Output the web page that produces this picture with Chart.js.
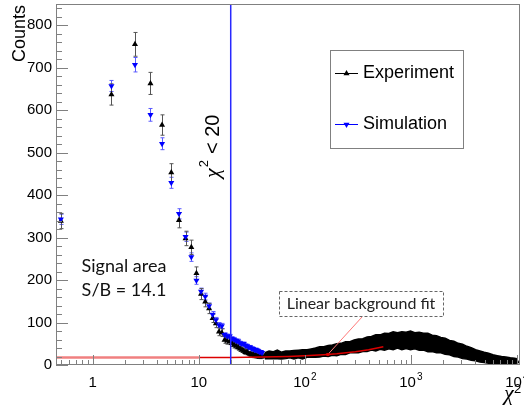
<!DOCTYPE html>
<html>
<head>
<meta charset="utf-8">
<script src="https://cdn.jsdelivr.net/npm/chart.js@4.4.0/dist/chart.umd.min.js"></script>
<style>
  html, body { margin: 0; padding: 0; background: #fff; }
</style>
</head>
<body>
<canvas id="chi2Chart" width="524" height="405"></canvas>
<script>
// chi2 bin centres (unit-width bins) for the peak region
const binCenters = [0.5,1.5,2.5,3.5,4.5,5.5,6.5,7.5,8.5,9.5,10.5,11.5,12.5,13.5,14.5,15.5,16.5,17.5,18.5,19.5,
                    20.5,21.5,22.5,23.5,24.5,25.5,26.5,27.5,28.5,29.5,30.5,31.5,32.5,33.5,34.5,35.5,36.5,37.5,38.5,39.5];
const expCounts = [339,637,755,663,565,453,341,298,277,216,167,149,133,110,98,78,76,59,57,55,
                   51,47,45,42,38,36,33,30,31,27,26,24,25,22,23,20,21,19,21,20];
const expErrors = [18,25,28,26,24,21,18,17,17,15,13,12,12,10,10,9,9,8,8,7,
                   7,7,7,6,6,6,6,5,6,5,5,5,5,5,5,4,5,4,5,4];
const simCounts = [343,657,707,589,521,429,356,302,254,199,173,161,139,119,106,94,92,71,68,67,
                   62,60,57,56,52,50,50,46,45,42,42,39,38,36,36,34,33,31,31,29];
const simErrors = [12,13,17,15,14,13,12,11,10,9,8,8,7,7,6,6,6,5,5,5,
                   5,5,5,5,4,4,4,4,4,4,4,4,4,4,4,4,4,3,3,3];

// experiment tail (dense region): centre of the band and its half thickness
const tailChi2 = [42,46,50,55,60,66,72,79,87,95,105,115,126,138,151,166,182,200,220,242,
                  266,292,320,352,387,425,467,513,564,620,681,748,822,903,992,1090,1198,1316,1446,1589,
                  1746,1918,2108,2316,2545,2796,3072,3375,3708,4074,4477,4919,5404,5938,6524,7168,7876,8653,9507,10000];
const tailCounts = [22,24,23,25,22,24,25,24,26,25,27,28,29,31,32,33,35,36,38,40,
                    42,44,45,47,49,51,52,54,55,56,57,58,57,58,58,57,56,55,53,51,
                    49,47,44,41,38,35,32,29,26,23,20,18,16,14,12,11,10,9,8,8];
const tailSpread = [7,9,8,10,8,9,8,10,9,11,9,10,11,12,11,13,12,14,13,15,
                    13,15,16,15,17,16,19,17,20,18,21,18,21,19,22,19,21,20,22,19,
                    20,18,19,17,18,16,17,15,15,13,13,12,12,10,10,9,9,8,8,7];

// linear background fit (drawn range) and its extension to low chi2
const fitChi2 = [10,20,40,70,100,150,200,300,400,550];
const fitCounts = [17.5,17.9,18.9,20.3,21.7,24.1,26.4,31.1,35.8,42.9];
const fitExtChi2 = [0.45,10];
const fitExtCounts = [17.4,17.4];
const fitLabelChi2 = 165;
const fitLabelCount = 24.8;

const chi2Cut = 20;
const yTicks = [0,100,200,300,400,500,600,700,800];
const xTickValues = [1,10,100,1000,10000];
const xTickLabels = ['1','10','10^2','10^3','10^4'];

const pts = (xs, ys) => xs.map((x, i) => ({ x: x, y: ys[i] }));

const AXIS_FONT = '15px "Liberation Sans", Arial, sans-serif';
const GRAY = '#808080';

const decor = {
    id: 'decor',
    beforeDatasetsDraw(chart) {
        // error bars under the markers
        const ctx = chart.ctx, ys = chart.scales.y;
        chart.data.datasets.forEach((ds, i) => {
            if (!ds.errorBars) return;
            const meta = chart.getDatasetMeta(i);
            ctx.save();
            ctx.strokeStyle = ds.errorColor;
            ctx.lineWidth = 1;
            meta.data.forEach((pt, j) => {
                const e = ds.errorBars[j];
                if (e == null) return;
                const v = ds.data[j].y;
                const top = ys.getPixelForValue(v + e);
                const bot = ys.getPixelForValue(Math.max(v - e, 0));
                const px = Math.round(pt.x) + 0.5;
                ctx.beginPath();
                ctx.moveTo(px, top); ctx.lineTo(px, bot);
                ctx.moveTo(px - 2, top); ctx.lineTo(px + 2, top);
                ctx.moveTo(px - 2, bot); ctx.lineTo(px + 2, bot);
                ctx.stroke();
            });
            ctx.restore();
        });
    },
    afterDatasetsDraw(chart) {
        const ctx = chart.ctx, xs = chart.scales.x, ys = chart.scales.y, a = chart.chartArea;
        ctx.save();
        // chi2 cut line
        const cx = xs.getPixelForValue(chi2Cut);
        ctx.strokeStyle = 'rgb(40,40,255)';
        ctx.lineWidth = 1.5;
        ctx.beginPath(); ctx.moveTo(cx, a.top); ctx.lineTo(cx, a.bottom); ctx.stroke();

        // fit annotation: pointer + dashed box
        const mx = xs.getPixelForValue(fitLabelChi2), my = ys.getPixelForValue(fitLabelCount);
        ctx.strokeStyle = 'rgb(255,120,120)';
        ctx.lineWidth = 1;
        ctx.beginPath(); ctx.moveTo(362, 317); ctx.lineTo(mx, my); ctx.stroke();
        ctx.fillStyle = 'rgb(220,0,0)';
        ctx.fillRect(mx - 1.5, my - 1.5, 3, 3);

        ctx.fillStyle = '#fff';
        ctx.fillRect(279, 292, 164, 25);
        ctx.setLineDash([3, 2]);
        ctx.strokeStyle = '#666';
        ctx.strokeRect(279.5, 291.5, 164, 25);
        ctx.setLineDash([]);
        ctx.fillStyle = '#222';
        ctx.font = '16px Lato, "Open Sans", sans-serif';
        ctx.textAlign = 'center';
        ctx.textBaseline = 'middle';
        ctx.fillText('Linear background fit', 361, 304);

        // signal area text
        ctx.fillStyle = '#111';
        ctx.font = '18px Lato, "Open Sans", sans-serif';
        ctx.fillText('Signal area', 124, 266);
        ctx.fillText('S/B = 14.1', 124, 290);

        // rotated chi2 < 20 label
        ctx.save();
        ctx.translate(219, 178);
        ctx.rotate(-Math.PI / 2);
        ctx.textAlign = 'left';
        ctx.textBaseline = 'alphabetic';
        ctx.fillStyle = '#000';
        ctx.font = 'italic 22px "Liberation Serif", serif';
        ctx.fillText('\u03C7', 0, 0);
        let off = ctx.measureText('\u03C7').width + 1;
        ctx.font = '13px "Liberation Sans", Arial, sans-serif';
        ctx.fillText('2', off, -11);
        off += ctx.measureText('2').width + 6;
        ctx.font = '20px "Liberation Sans", Arial, sans-serif';
        ctx.fillText('< 20', off, 0);
        ctx.restore();
        ctx.restore();
    },
    afterDraw(chart) {
        const ctx = chart.ctx, xs = chart.scales.x, ys = chart.scales.y, a = chart.chartArea;
        ctx.save();
        ctx.strokeStyle = GRAY;
        ctx.lineWidth = 1;
        ctx.strokeRect(Math.round(a.left) + 0.5, Math.round(a.top) + 0.5,
                       Math.round(a.right - a.left) - 1, Math.round(a.bottom - a.top) - 1);

        // y ticks (inward) with 5 minor divisions
        ctx.beginPath();
        const yStep = yTicks[1] - yTicks[0];
        for (let v = yTicks[0]; v <= ys.max; v += yStep / 5) {
            const py = Math.round(ys.getPixelForValue(v)) + 0.5;
            const major = yTicks.includes(Math.round(v));
            ctx.moveTo(a.left, py); ctx.lineTo(a.left + (major ? 12 : 6), py);
        }
        // x ticks (inward), decades + 2..9
        for (let d = 0.1; d <= xs.max; d *= 10) {
            for (let k = 1; k <= 9; k++) {
                const v = k * d;
                if (v < xs.min || v > xs.max) continue;
                const px = Math.round(xs.getPixelForValue(v)) + 0.5;
                ctx.moveTo(px, a.bottom); ctx.lineTo(px, a.bottom - (k === 1 ? 10 : 5));
            }
        }
        ctx.stroke();

        // tick labels
        ctx.fillStyle = '#000';
        ctx.font = AXIS_FONT;
        ctx.textAlign = 'right';
        ctx.textBaseline = 'middle';
        yTicks.forEach(v => ctx.fillText(String(v), 52, ys.getPixelForValue(v)));

        ctx.textBaseline = 'alphabetic';
        xTickValues.forEach((v, i) => {
            const parts = xTickLabels[i].split('^');
            const px = xs.getPixelForValue(v);
            ctx.font = AXIS_FONT;
            const wb = ctx.measureText(parts[0]).width;
            ctx.font = '10px "Liberation Sans", Arial, sans-serif';
            const we = parts[1] ? ctx.measureText(parts[1]).width + 1 : 0;
            const x0 = px - (wb + we) / 2;
            ctx.textAlign = 'left';
            ctx.font = AXIS_FONT;
            ctx.fillText(parts[0], x0, 387);
            if (parts[1]) {
                ctx.font = '10px "Liberation Sans", Arial, sans-serif';
                ctx.fillText(parts[1], x0 + wb + 1, 380);
            }
        });

        // axis titles
        ctx.save();
        ctx.translate(25, 5);
        ctx.rotate(-Math.PI / 2);
        ctx.textAlign = 'right';
        ctx.font = '18px "Liberation Sans", Arial, sans-serif';
        ctx.fillText('Counts', 0, 0);
        ctx.restore();

        ctx.textAlign = 'left';
        ctx.font = 'italic 22px "Liberation Serif", serif';
        ctx.fillText('\u03C7', 504, 400);
        ctx.font = '13px "Liberation Sans", Arial, sans-serif';
        ctx.fillText('2', 514, 393);

        // legend box
        ctx.fillStyle = '#fff';
        ctx.fillRect(331, 51, 132, 97);
        ctx.strokeStyle = GRAY;
        ctx.strokeRect(330.5, 50.5, 133, 98);
        const entries = [
            { label: 'Experiment', color: '#000', y: 73, rot: 0 },
            { label: 'Simulation', color: 'rgb(0,0,255)', y: 124, rot: 180 }
        ];
        entries.forEach(e => {
            ctx.strokeStyle = e.color;
            ctx.lineWidth = 1;
            ctx.beginPath(); ctx.moveTo(335, e.y + 0.5); ctx.lineTo(358, e.y + 0.5); ctx.stroke();
            ctx.fillStyle = e.color;
            Chart.helpers.drawPoint(ctx, { pointStyle: 'triangle', radius: 3.5, rotation: e.rot, borderWidth: 0 }, 346.5, e.y + 0.5);
            ctx.fillStyle = '#000';
            ctx.font = '18px "Liberation Sans", Arial, sans-serif';
            ctx.textBaseline = 'middle';
            ctx.fillText(e.label, 363, e.y);
        });
        ctx.restore();
    }
};

new Chart(document.getElementById('chi2Chart').getContext('2d'), {
    type: 'scatter',
    data: {
        datasets: [
            {
                label: 'Fit extension',
                data: pts(fitExtChi2, fitExtCounts),
                showLine: true, borderColor: 'rgb(240,128,128)', borderWidth: 2.5,
                pointRadius: 0, order: 1
            },
            {
                label: 'Linear background fit',
                data: pts(fitChi2, fitCounts),
                showLine: true, borderColor: 'rgb(220,0,0)', borderWidth: 1.5,
                pointRadius: 0, order: 0
            },
            {
                label: 'Simulation',
                data: pts(binCenters, simCounts),
                errorBars: simErrors, errorColor: 'rgb(90,90,255)',
                pointStyle: 'triangle', rotation: 180, pointRadius: 3.5,
                backgroundColor: 'rgb(0,0,255)', borderColor: 'rgb(0,0,255)', borderWidth: 0,
                order: 2
            },
            {
                label: 'Experiment',
                data: pts(binCenters, expCounts).concat(pts(tailChi2, tailCounts)),
                errorBars: expErrors, errorColor: '#555',
                pointStyle: 'triangle', pointRadius: 3.5,
                backgroundColor: '#000', borderColor: '#000', borderWidth: 0,
                order: 3
            },
            {
                label: 'band high',
                data: tailChi2.map((x, i) => ({ x: x, y: tailCounts[i] + tailSpread[i] })),
                showLine: true, fill: '+1', backgroundColor: '#000', borderColor: '#000',
                borderWidth: 1.5, pointRadius: 0, order: 5
            },
            {
                label: 'band low',
                data: tailChi2.map((x, i) => ({ x: x, y: Math.max(tailCounts[i] - tailSpread[i], 0) })),
                showLine: true, borderColor: '#000', borderWidth: 1.5, pointRadius: 0, order: 6
            }
        ]
    },
    options: {
        responsive: false,
        animation: false,
        layout: { padding: { left: 56, top: 4, right: 3, bottom: 40 } },
        plugins: { legend: { display: false }, tooltip: { enabled: false } },
        scales: {
            x: { type: 'logarithmic', min: 0.45, max: 10700, display: false },
            y: { type: 'linear', min: 0, max: 850, display: false }
        }
    },
    plugins: [decor]
});
</script>
</body>
</html>
